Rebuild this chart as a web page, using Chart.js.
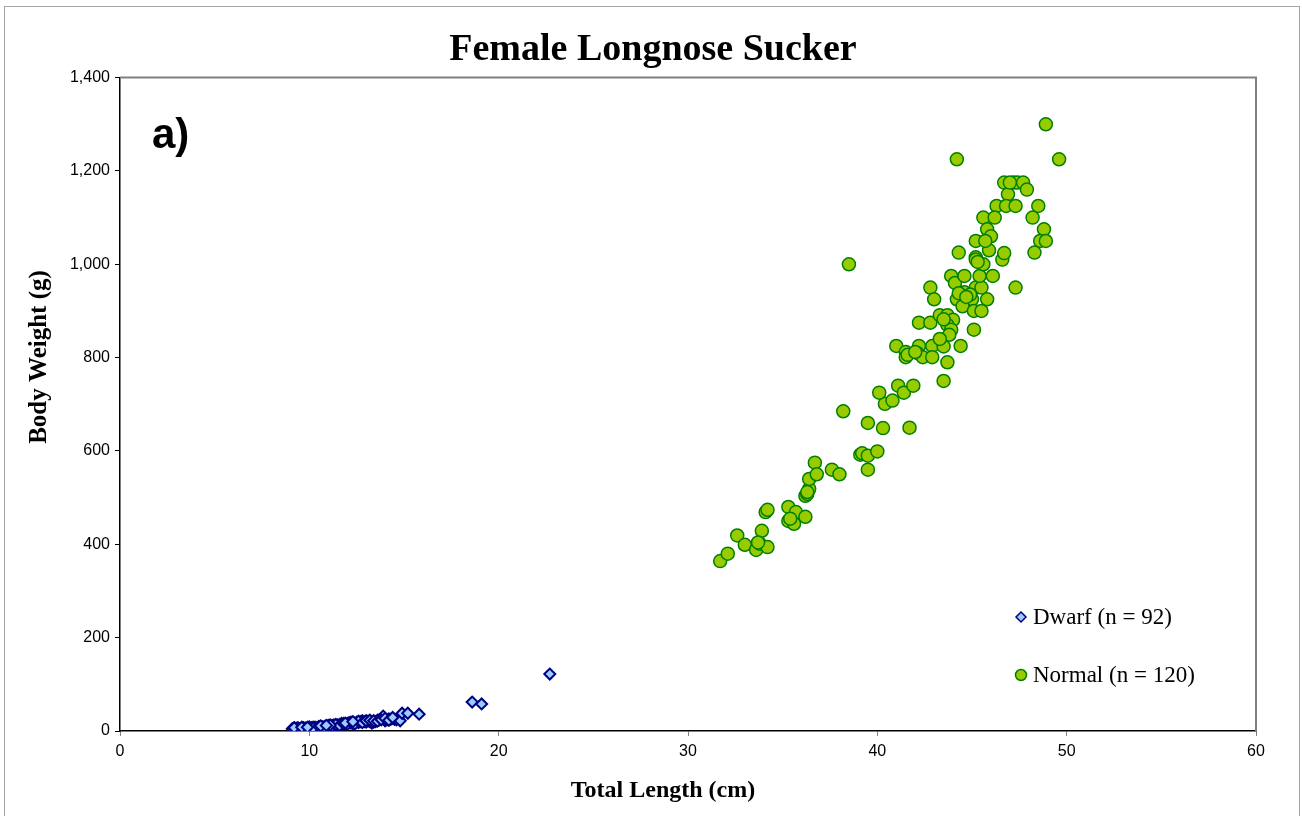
<!DOCTYPE html>
<html>
<head>
<meta charset="utf-8">
<title>Female Longnose Sucker</title>
<script src="https://cdn.jsdelivr.net/npm/chart.js@4/dist/chart.umd.min.js"></script>
<style>
  html, body { margin: 0; padding: 0; background: #fff; }
  #wrap { position: relative; width: 1302px; height: 816px; overflow: hidden; }
  #frame { position: absolute; left: 4px; top: 6px; width: 1296px; height: 830px; border: 1px solid #a6a6a6; box-sizing: border-box; }
  #chart { position: absolute; left: 0; top: 0; }
</style>
</head>
<body>
<div id="wrap">
  <div id="frame"></div>
  <canvas id="chart" width="1302" height="816"></canvas>
</div>
<script>
/* ===== data ===== */
const seriesNames = ["Dwarf (n = 92)", "Normal (n = 120)"];

const dwarfLength = [
  9.1, 9.2, 9.3, 9.4, 9.5, 9.6, 9.7, 9.8, 10.0, 10.1,
  10.2, 10.3, 10.4, 10.5, 10.6, 10.7, 10.8, 10.9, 11.0, 11.1,
  11.2, 11.3, 11.4, 11.5, 11.6, 11.7, 11.8, 11.9, 12.0, 12.1,
  12.2, 12.3, 12.4, 12.5, 12.6, 12.7, 12.8, 12.9, 13.0, 13.1,
  13.2, 13.3, 13.4, 13.5, 13.6, 13.7, 13.8, 13.9, 14.0, 14.1,
  14.2, 14.3, 14.4, 14.5, 14.6, 14.8, 14.9, 15.2, 15.8, 18.6,
  19.1, 22.7,
  9.2, 9.6, 10.0, 10.2, 10.5, 10.8, 11.0, 11.2, 11.4, 11.6,
  11.8, 12.0, 12.2, 12.4, 12.6, 12.8, 13.0, 13.2, 13.4, 13.6,
  13.8, 14.0, 14.2, 14.4, 11.1, 11.9, 12.3, 10.6, 9.9, 10.9
];
const dwarfWeight = [
  5, 6, 6, 7, 5, 6, 7, 6, 7, 7,
  8, 8, 7, 8, 9, 9, 10, 9, 10, 11,
  12, 13, 12, 13, 14, 16, 14, 15, 16, 18,
  17, 16, 17, 19, 18, 20, 22, 20, 19, 21,
  20, 17, 19, 20, 23, 24, 26, 32, 22, 24,
  26, 25, 27, 25, 24, 22, 38, 38, 36, 62,
  58, 122,
  7, 8, 9, 6, 10, 8, 12, 10, 14, 12,
  16, 14, 19, 15, 21, 18, 22, 23, 22, 21,
  24, 27, 23, 29, 13, 17, 20, 11, 8, 12
];

const normalLength = [
  31.7, 32.1, 32.6, 33.0, 33.6, 33.8, 33.9, 34.2, 34.1, 34.2,
  35.3, 35.3, 35.6, 35.7, 36.2, 36.2, 36.3, 36.4, 36.4, 36.7,
  36.8, 37.6, 38.0, 38.2, 39.1, 39.2, 39.5, 40.0, 39.5, 39.5,
  40.3, 40.4, 40.8, 40.1, 41.1, 41.4, 41.9, 41.7, 41.0, 41.5,
  41.5, 42.2, 42.1, 42.4, 42.9, 42.9, 43.5, 44.4, 43.7, 43.5,
  42.2, 42.8, 43.3, 43.7, 44.0, 43.7, 43.9, 43.8, 43.3, 45.1,
  42.8, 43.0, 44.2, 44.6, 45.0, 45.2, 45.5, 45.8, 44.5, 45.1,
  45.5, 47.3, 43.9, 44.1, 44.6, 45.4, 46.1, 38.5, 44.3, 45.2,
  45.2, 45.6, 45.9, 46.6, 46.7, 48.9, 44.2, 49.6, 46.7, 47.2,
  47.4, 47.7, 47.9, 46.9, 46.3, 46.8, 47.3, 48.5, 45.6, 46.2,
  48.2, 45.8, 46.0, 45.2, 45.7, 48.8, 48.6, 48.9, 48.3, 44.3,
  35.4, 33.7, 41.6, 42.0, 43.5, 44.9, 45.3, 47.0, 44.7, 36.3
];
const normalWeight = [
  364, 380, 419, 399, 388, 401, 429, 394, 469, 474,
  480, 450, 444, 469, 459, 504, 508, 519, 540, 575,
  550, 560, 550, 685, 592, 595, 590, 599, 560, 660,
  649, 701, 708, 725, 740, 725, 740, 650, 825, 812,
  801, 825, 810, 801, 825, 801, 824, 825, 790, 750,
  875, 875, 891, 891, 881, 870, 860, 849, 840, 860,
  950, 925, 925, 940, 925, 950, 950, 925, 910, 900,
  900, 950, 975, 960, 975, 975, 975, 1000, 1025, 1015,
  1010, 1000, 1030, 1010, 1024, 1300, 1225, 1225, 1175, 1175,
  1175, 1175, 1160, 1150, 1125, 1125, 1125, 1125, 1100, 1100,
  1100, 1075, 1060, 1050, 1050, 1075, 1050, 1050, 1025, 938,
  455, 404, 806, 812, 882, 935, 1005, 1175, 930, 512
];

const xTicks = [0, 10, 20, 30, 40, 50, 60];
const yTicks = [0, 200, 400, 600, 800, 1000, 1200, 1400];

/* ===== colours ===== */
const DWARF_FILL = "#99ccff";
const DWARF_EDGE = "#000080";
const NORMAL_FILL = "#99cc00";
const NORMAL_EDGE = "#008000";

const SERIF = "'Liberation Serif', 'Times New Roman', serif";
const SANS = "'Liberation Sans', Arial, sans-serif";

const toPoints = (xs, ys) => xs.map((x, i) => ({ x: x, y: ys[i] }));

/* plot frame, axis titles, panel letter and legend */
const extras = {
  id: "extras",
  beforeDatasetsDraw(chart) {
    const { ctx, chartArea: a } = chart;
    ctx.save();
    ctx.strokeStyle = "#808080";
    ctx.lineWidth = 2;
    ctx.beginPath();
    ctx.moveTo(a.left, a.top);
    ctx.lineTo(a.right, a.top);
    ctx.lineTo(a.right, a.bottom);
    ctx.stroke();
    ctx.restore();
  },
  afterDraw(chart) {
    const { ctx, chartArea: a } = chart;
    ctx.save();
    ctx.fillStyle = "#000";

    // axis titles (sit off-centre in the original)
    ctx.font = "bold 24px " + SERIF;
    ctx.textAlign = "center";
    ctx.textBaseline = "middle";
    ctx.fillText("Total Length (cm)", 663, 791);
    ctx.save();
    ctx.translate(40, 357);
    ctx.rotate(-Math.PI / 2);
    ctx.font = "bold 25px " + SERIF;
    ctx.fillText("Body Weight (g)", 0, 0);
    ctx.restore();

    // panel letter
    ctx.textAlign = "left";
    ctx.font = "bold 42px " + SANS;
    ctx.textBaseline = "alphabetic";
    ctx.fillText("a)", a.left + 32, a.top + 70);

    // legend
    const lx = 1021;
    const rows = [617, 675];
    ctx.font = "23px " + SERIF;
    ctx.textBaseline = "middle";

    ctx.beginPath();
    ctx.moveTo(lx, rows[0] - 5);
    ctx.lineTo(lx + 5, rows[0]);
    ctx.lineTo(lx, rows[0] + 5);
    ctx.lineTo(lx - 5, rows[0]);
    ctx.closePath();
    ctx.fillStyle = DWARF_FILL;
    ctx.fill();
    ctx.strokeStyle = DWARF_EDGE;
    ctx.lineWidth = 1.5;
    ctx.stroke();

    ctx.beginPath();
    ctx.arc(lx, rows[1], 5.5, 0, Math.PI * 2);
    ctx.fillStyle = NORMAL_FILL;
    ctx.fill();
    ctx.strokeStyle = NORMAL_EDGE;
    ctx.lineWidth = 1.5;
    ctx.stroke();

    ctx.fillStyle = "#000";
    ctx.fillText(seriesNames[0], lx + 12, rows[0] + 1);
    ctx.fillText(seriesNames[1], lx + 12, rows[1] + 1);
    ctx.restore();
  }
};

new Chart(document.getElementById("chart"), {
  type: "scatter",
  data: {
    datasets: [
      {
        label: seriesNames[0],
        data: toPoints(dwarfLength, dwarfWeight),
        pointStyle: "rectRot",
        pointRadius: 5.5,
        pointHoverRadius: 5.5,
        borderWidth: 2,
        backgroundColor: DWARF_FILL,
        borderColor: DWARF_EDGE
      },
      {
        label: seriesNames[1],
        data: toPoints(normalLength, normalWeight),
        pointStyle: "circle",
        pointRadius: 6.5,
        pointHoverRadius: 6.5,
        borderWidth: 1.5,
        backgroundColor: NORMAL_FILL,
        borderColor: NORMAL_EDGE
      }
    ]
  },
  options: {
    responsive: false,
    animation: false,
    layout: { padding: { left: 4, right: 0, top: 0, bottom: 0 } },
    plugins: {
      legend: { display: false },
      tooltip: { enabled: false },
      title: {
        display: true,
        text: "Female Longnose Sucker",
        color: "#000",
        font: { family: SERIF, size: 38, weight: "bold", lineHeight: 1.2 },
        padding: { top: 27, bottom: 5 }
      }
    },
    scales: {
      x: {
        type: "linear",
        min: xTicks[0],
        max: xTicks[xTicks.length - 1],
        afterBuildTicks: s => { s.ticks = xTicks.map(v => ({ value: v })); },
        afterFit: s => { s.height = 85; },
        grid: { drawOnChartArea: false, drawTicks: true, tickLength: 5, color: "#808080" },
        border: { color: "#000", width: 1.5 },
        ticks: {
          color: "#000",
          padding: 6,
          font: { family: SANS, size: 16 }
        }
      },
      y: {
        type: "linear",
        min: yTicks[0],
        max: yTicks[yTicks.length - 1],
        afterBuildTicks: s => { s.ticks = yTicks.map(v => ({ value: v })); },
        afterFit: s => { s.width = 116; },
        grid: { drawOnChartArea: false, drawTicks: true, tickLength: 5, color: "#000" },
        border: { color: "#000", width: 1.5 },
        ticks: {
          color: "#000",
          padding: 5,
          font: { family: SANS, size: 16 },
          callback: v => v.toLocaleString("en-US")
        }
      },
      yRight: {
        type: "linear",
        position: "right",
        min: yTicks[0],
        max: yTicks[yTicks.length - 1],
        afterFit: s => { s.width = 46; },
        grid: { display: false },
        border: { display: false },
        ticks: { display: false }
      }
    }
  },
  plugins: [extras]
});
</script>
</body>
</html>
